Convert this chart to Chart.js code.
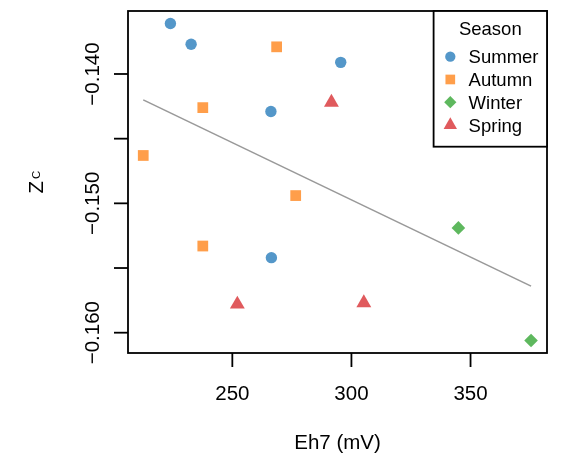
<!DOCTYPE html>
<html>
<head>
<meta charset="utf-8">
<script src="https://cdn.jsdelivr.net/npm/chart.js@4.4.1/dist/chart.umd.min.js"></script>
<style>
  html, body { margin: 0; padding: 0; background: #fff; }
</style>
</head>
<body>
<canvas id="chart" width="570" height="454"></canvas>
<script>
// data
const seasons = ['Summer', 'Autumn', 'Winter', 'Spring'];
const summerEh = [224.0, 232.7, 295.5, 266.2, 266.4];
const summerZc = [-0.1361, -0.1377, -0.1391, -0.1429, -0.1542];
const autumnEh = [268.6, 237.6, 212.6, 276.6, 237.6];
const autumnZc = [-0.1379, -0.1426, -0.1463, -0.1494, -0.1533];
const winterEh = [344.9, 375.4];
const winterZc = [-0.1519, -0.1606];
const springEh = [291.6, 252.1, 305.2];
const springZc = [-0.1422, -0.1578, -0.1577];
const trendEh = [212.6, 375.4];
const trendZc = [-0.1420, -0.1564];

const xTicks = [250, 300, 350];
const xTickLabels = ['250', '300', '350'];
const yTicks = [-0.160, -0.155, -0.150, -0.145, -0.140];
const yTickLabels = ['\u22120.160', '', '\u22120.150', '', '\u22120.140'];

const FONT = '"Liberation Sans", Arial, Helvetica, sans-serif';

const colors = ['#5497C9', '#FF9E4A', '#5EB85E', '#E05A5D'];
const styles = ['circle', 'rect', 'rectRot', 'triangle'];
const radii = [5.7, 7.6, 6.8, 8.6];

function pts(xs, ys) {
    return xs.map((v, i) => ({ x: v, y: ys[i] }));
}

const seriesX = [summerEh, autumnEh, winterEh, springEh];
const seriesY = [summerZc, autumnZc, winterZc, springZc];

const datasets = seasons.map((s, i) => ({
    label: s,
    data: pts(seriesX[i], seriesY[i]),
    pointStyle: styles[i],
    pointRadius: radii[i],
    pointHoverRadius: radii[i],
    backgroundColor: colors[i],
    borderWidth: 0,
    showLine: false,
    clip: false
}));

datasets.unshift({
    label: 'trend',
    data: pts(trendEh, trendZc),
    showLine: true,
    borderColor: '#999999',
    borderWidth: 1.6,
    pointRadius: 0,
    clip: false
});

// R style axes, box and legend
const rStyle = {
    id: 'rStyle',
    afterDatasetsDraw(chart) {
        const { ctx, chartArea: a, scales: { x, y } } = chart;
        ctx.save();
        ctx.strokeStyle = '#000';
        ctx.lineWidth = 1.8;
        ctx.strokeRect(a.left, a.top, a.right - a.left, a.bottom - a.top);

        ctx.fillStyle = '#000';
        ctx.font = '20.5px ' + FONT;

        // x axis
        ctx.textAlign = 'center';
        ctx.textBaseline = 'alphabetic';
        xTicks.forEach((v, i) => {
            const px = x.getPixelForValue(v);
            ctx.beginPath();
            ctx.moveTo(px, a.bottom);
            ctx.lineTo(px, a.bottom + 14);
            ctx.stroke();
            ctx.fillText(xTickLabels[i], px, a.bottom + 46.5);
        });

        // y axis, labels rotated
        yTicks.forEach((v, i) => {
            const py = y.getPixelForValue(v);
            ctx.beginPath();
            ctx.moveTo(a.left, py);
            ctx.lineTo(a.left - 14, py);
            ctx.stroke();
            if (yTickLabels[i]) {
                ctx.save();
                ctx.translate(a.left - 28.7, py);
                ctx.rotate(-Math.PI / 2);
                ctx.fillText(yTickLabels[i], 0, 0);
                ctx.restore();
            }
        });

        // axis titles
        ctx.fillText('Eh7 (mV)', (a.left + a.right) / 2, a.bottom + 96);

        ctx.save();
        ctx.translate(43, (a.top + a.bottom) / 2);
        ctx.rotate(-Math.PI / 2);
        ctx.textAlign = 'left';
        const zw = ctx.measureText('Z').width;
        ctx.font = '11.5px ' + FONT;
        const cw = ctx.measureText('C').width;
        const start = -(zw + 2 + cw) / 2;
        ctx.font = '20.5px ' + FONT;
        ctx.fillText('Z', start, 0);
        ctx.font = '11.5px ' + FONT;
        ctx.fillText('C', start + zw + 2, -3);
        ctx.restore();

        // legend
        const lx = a.right - 113.4, ly = a.top, lw = 113.4, lh = 135.7;
        ctx.fillStyle = '#fff';
        ctx.fillRect(lx, ly, lw, lh);
        ctx.strokeRect(lx, ly, lw, lh);
        ctx.fillStyle = '#000';
        ctx.font = '18.5px ' + FONT;
        ctx.textAlign = 'center';
        ctx.fillText('Season', lx + lw / 2, ly + 24);
        ctx.textAlign = 'left';
        seasons.forEach((s, i) => {
            const ry = ly + 45.7 + i * 22.77;
            ctx.fillStyle = colors[i];
            Chart.helpers.drawPoint(ctx, {
                pointStyle: styles[i],
                radius: radii[i] * 0.9,
                rotation: 0,
                borderWidth: 0
            }, lx + 16.7, ry);
            ctx.fillStyle = '#000';
            ctx.fillText(s, lx + 35, ry + 6.7);
        });
        ctx.restore();
    }
};

new Chart(document.getElementById('chart').getContext('2d'), {
    type: 'scatter',
    data: { datasets: datasets },
    options: {
        responsive: false,
        animation: false,
        events: [],
        layout: { padding: { left: 128, top: 11, right: 23, bottom: 101 } },
        plugins: {
            legend: { display: false },
            tooltip: { enabled: false }
        },
        scales: {
            x: { type: 'linear', display: false, min: 206.2, max: 382.1 },
            y: { type: 'linear', display: false, min: -0.16157, max: -0.13513 }
        }
    },
    plugins: [rStyle]
});
</script>
</body>
</html>
